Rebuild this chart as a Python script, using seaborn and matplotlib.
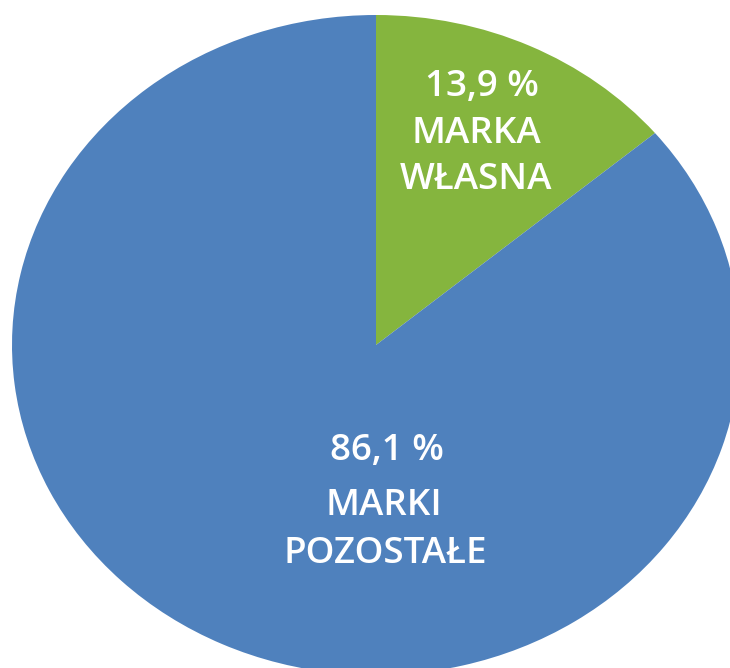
import matplotlib
matplotlib.use("Agg")
import matplotlib.pyplot as plt
import seaborn as sns

# Data
categories = ["MARKA\nWŁASNA", "MARKI\nPOZOSTAŁE"]
values = [13.9, 86.1]
colors = ["#85B53E", "#4F81BD"]

sns.set_theme(style="white")
plt.rcParams['font.family'] = ['Open Sans', 'DejaVu Sans']

W, H = 730, 668
fig = plt.figure(figsize=(W / 100, H / 100), dpi=100)
ax = fig.add_axes([0, 0, 1, 1])

ax.pie(values, colors=colors, startangle=90, counterclock=False,
       wedgeprops=dict(linewidth=0))
ax.set_aspect('auto')

# ellipse geometry (pixels): centre (376, 345), rx 364, ry 330
cx, cy, rx, ry = 376, 345, 364, 330
ax.set_xlim(-cx / rx, (W - cx) / rx)
ax.set_ylim(-(H - cy) / ry, cy / ry)
ax.axis('off')

def fmt(v):
    return f"{v:.1f} %".replace('.', ',')

# label positions (pixel centres of each line)
label_pos = [
    [(482, 87), (476, 134), (476, 180)],
    [(387, 451), (384, 506), (385, 554)],
]
for (cat, val), pos in zip(zip(categories, values), label_pos):
    lines = [fmt(val)] + cat.split("\n")
    for text, (px, py) in zip(lines, pos):
        fig.text(px / W, 1 - py / H, text, ha='center', va='center',
                 color='white', fontsize=26.5, fontweight='semibold')

fig.savefig("out.png", dpi=100)
